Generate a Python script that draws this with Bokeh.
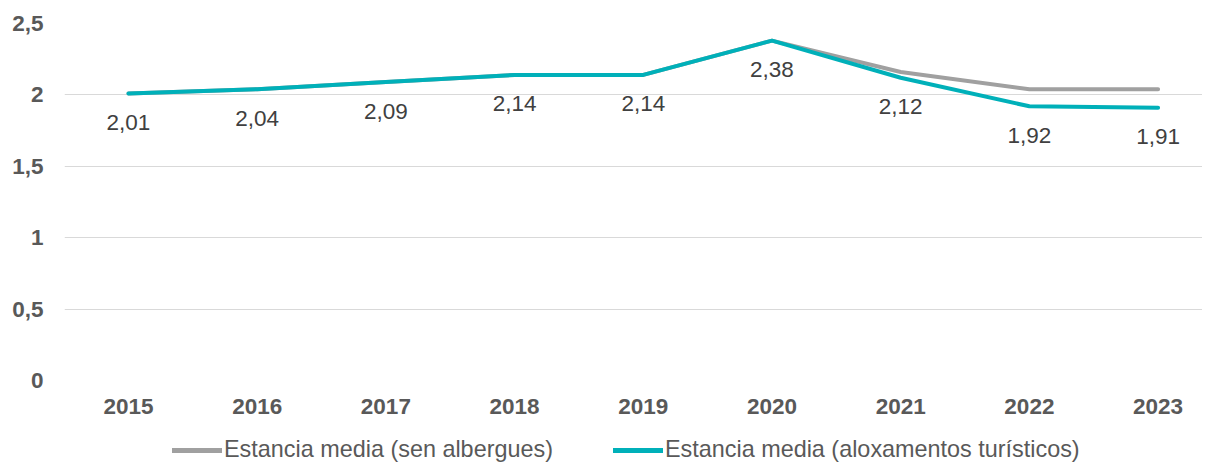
from bokeh.plotting import figure
from bokeh.layouts import column
from bokeh.models import ColumnDataSource, FixedTicker, Legend, LegendItem, Range1d, LabelSet
from bokeh.core.properties import value
from bokeh.embed import file_html
from bokeh.resources import INLINE

years = ["2015", "2016", "2017", "2018", "2019", "2020", "2021", "2022", "2023"]
sen_albergues = [2.01, 2.04, 2.09, 2.14, 2.14, 2.38, 2.16, 2.04, 2.04]
aloxamentos = [2.01, 2.04, 2.09, 2.14, 2.14, 2.38, 2.12, 1.92, 1.91]
y_ticks = [0, 0.5, 1, 1.5, 2, 2.5]
y_tick_labels = ["0", "0,5", "1", "1,5", "2", "2,5"]
series_names = ["Estancia media (sen albergues)", "Estancia media (aloxamentos turísticos)"]
colors = ["#A0A0A0", "#00B0B9"]

xs = list(range(len(years)))
labels = [f"{v:.2f}".replace(".", ",") for v in aloxamentos]
src = ColumnDataSource(dict(x=xs, a=sen_albergues, b=aloxamentos, lab=labels))

FONT = "Liberation Sans"
FS = "22.5px"
p = figure(width=1202, height=425, output_backend="svg", toolbar_location=None,
           x_range=Range1d(-0.497, 8.345), y_range=Range1d(0, 2.5),
           min_border_left=64, min_border_right=0, min_border_top=23, min_border_bottom=45)
p.outline_line_color = None
p.background_fill_color = "white"

p.line("x", "a", source=src, line_color=colors[0], line_width=4, line_cap="round")
p.line("x", "b", source=src, line_color=colors[1], line_width=4, line_cap="round")

ls = LabelSet(x="x", y="b", text="lab", source=src, y_offset=-29, text_align="center",
              text_baseline="middle", text_font=value(FONT), text_font_size=FS, text_color="#404040")
p.add_layout(ls)

p.xaxis.ticker = FixedTicker(ticks=xs)
p.xaxis.major_label_overrides = {i: y for i, y in enumerate(years)}
p.yaxis.ticker = FixedTicker(ticks=y_ticks)
p.yaxis.major_label_overrides = {t: l for t, l in zip(y_ticks, y_tick_labels)}
for ax in (p.xaxis, p.yaxis):
    ax.axis_line_color = None
    ax.major_tick_line_color = None
    ax.minor_tick_line_color = None
    ax.major_label_text_font = FONT
    ax.major_label_text_font_size = FS
    ax.major_label_text_font_style = "bold"
    ax.major_label_text_color = "#595959"
p.xaxis.major_label_standoff = 12
p.yaxis.major_label_standoff = 15
p.xgrid.grid_line_color = None
p.ygrid.grid_line_color = "#D9D9D9"
p.ygrid.grid_line_width = 1

# legend strip
pl = figure(width=1202, height=40, output_backend="svg", toolbar_location=None,
            x_axis_type=None, y_axis_type=None, x_range=Range1d(0, 1), y_range=Range1d(0, 1),
            min_border=0)
pl.outline_line_color = None
pl.grid.grid_line_color = None
lr = [pl.line(x=[5, 6], y=[5, 5], line_color=c, line_width=5, line_cap="round") for c in colors]
legend = Legend(items=[LegendItem(label=n, renderers=[r]) for n, r in zip(series_names, lr)],
                orientation="horizontal", location=(108, 2), border_line_color=None,
                label_text_font=FONT, label_text_font_size="23.4px", label_text_color="#595959",
                glyph_width=50, label_standoff=2, spacing=60, padding=0, margin=0,
                label_height=26, glyph_height=26, background_fill_alpha=0)
pl.add_layout(legend)

layout = column(p, pl, spacing=0)
open("out.html", "w").write(file_html(layout, INLINE))
